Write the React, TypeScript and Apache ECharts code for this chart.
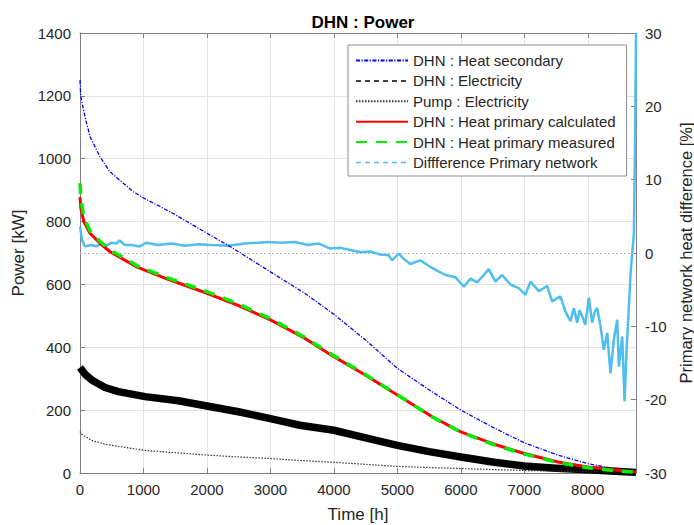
import React, { useEffect, useRef } from "react";
import * as echarts from "echarts";

// ---- Data ----
const timeSecondary = [0, 10, 79, 158, 315, 473, 841, 1009, 1420, 2000, 2370, 3000, 3540, 4000, 4500, 5000, 5550, 6000, 6490, 7000, 7530, 8000, 8400, 8760];
const heatSecondary = [1250, 1200, 1133, 1070, 1006, 958, 895, 874, 831, 763, 720, 640, 572, 505, 423, 333, 258, 200, 147, 96, 57, 30, 14, 3];

const timePrimary = [0, 15, 60, 158, 315, 473, 894, 1009, 1420, 2000, 2470, 3000, 3540, 3960, 4500, 5000, 5550, 6000, 6490, 7000, 7530, 8000, 8400, 8760];
const heatPrimaryCalc = [878, 840, 800, 763, 731, 704, 656, 646, 614, 572, 535, 487, 429, 375, 311, 248, 179, 131, 94, 62, 35, 19, 10, 3];
const heatPrimaryMeas = [922, 870, 815, 770, 737, 710, 660, 650, 618, 577, 540, 491, 432, 378, 313, 249, 178, 130, 92, 60, 33, 17, 8, 2];

const timeElec = [0, 90, 184, 394, 605, 1025, 1551, 2000, 2497, 3000, 3463, 4000, 4500, 5000, 5500, 6000, 6500, 7000, 7500, 8000, 8500, 8760];
const dhnElectricity = [336, 312, 296, 272, 259, 243, 230, 213, 195, 173, 152, 136, 112, 88, 68, 51, 35, 22, 15, 10, 5, 2];

const timePump = [0, 20, 179, 389, 599, 1020, 1546, 2003, 2492, 3007, 3463, 4000, 5000, 6000, 7000, 8000, 8760];
const pumpElectricity = [132, 124, 104, 92, 85, 72, 64, 57, 51, 46, 40, 34, 21, 14, 8, 4, 1];

const timeDiff = [
  0, 32, 73, 126, 179, 258, 336, 415, 494, 573,
  625, 704, 809, 941, 1046, 1230, 1440, 1651, 1861, 2071,
  2334, 2597, 2807, 2965, 3175, 3385, 3595, 3753, 3943, 4101,
  4259, 4416, 4574, 4732, 4863, 4916, 5021, 5100, 5205, 5363,
  5521, 5626, 5758, 5915, 6047, 6152, 6257, 6362, 6441, 6545,
  6650, 6781, 6913, 7018, 7097, 7228, 7360, 7438, 7570, 7649,
  7728, 7780, 7833, 7870, 7912, 7960, 8017, 8069, 8110, 8148,
  8201, 8253, 8306, 8358, 8411, 8464, 8490, 8543, 8580, 8612,
  8648, 8675, 8701, 8727, 8745, 8760,
];
const diffPrimary = [
  3.6, 1.8, 0.9, 1.0, 1.1, 0.9, 1.3, 1.0, 1.4, 1.3,
  1.7, 1.1, 1.1, 0.9, 1.4, 1.1, 1.3, 1.0, 1.2, 1.1,
  1.0, 1.3, 1.4, 1.5, 1.4, 1.5, 1.1, 1.3, 0.6, 0.7,
  0.4, 0.1, 0.2, -0.2, -0.3, -1.0, -0.1, -0.8, -1.5, -1.0,
  -1.9, -2.4, -3.0, -3.3, -4.6, -3.5, -4.0, -3.0, -2.2, -3.9,
  -3.0, -4.3, -4.8, -5.7, -3.9, -5.2, -4.5, -6.6, -5.9, -8.0,
  -9.3, -7.5, -9.5, -7.8, -8.6, -9.8, -6.1, -9.5, -8.0, -7.5,
  -10.0, -13.2, -10.9, -16.4, -11.8, -9.1, -15.5, -11.4, -20.2, -13.2,
  -7.3, -2.7, 0, 2.7, 15, 30,
];

const names = [
  "DHN : Heat secondary",
  "DHN : Electricity",
  "Pump : Electricity",
  "DHN : Heat primary calculated",
  "DHN : Heat primary measured",
  "Diffference Primary network",
];

const pairs = (t: number[], v: number[]) => t.map((x, i) => [x, v[i]]);

const FONT = '"Liberation Sans", Arial, Helvetica, sans-serif';
const TXT = "#262626";
const AXIS = "#808080";
const GRID = "#e3e3e3";
const plain = (v: number) => String(v);

export default function App() {
  const ref = useRef<HTMLDivElement>(null);
  useEffect(() => {
    document.body.style.margin = "0";
    const chart = echarts.init(ref.current!, undefined, { renderer: "svg" });
    const option: any = {
      animation: false,
      backgroundColor: "#ffffff",
      textStyle: { fontFamily: FONT },
      title: {
        text: "DHN : Power",
        left: 358,
        top: 9,
        textAlign: "center",
        textStyle: { fontFamily: FONT, fontSize: 17, fontWeight: "bold", color: "#000" },
      },
      grid: { left: 80, right: 58, top: 33, bottom: 52, show: false, containLabel: false, outerBoundsMode: "none" },
      legend: {
        orient: "vertical",
        left: 348,
        top: 45,
        padding: [8, 11, 6, 7],
        itemGap: 5.4,
        itemWidth: 52,
        itemHeight: 14,
        backgroundColor: "#ffffff",
        borderColor: "#8c8c8c",
        borderWidth: 1,
        itemStyle: { opacity: 0 },
        textStyle: { fontFamily: FONT, fontSize: 15, color: TXT },
        data: [
          { name: names[0] },
          { name: names[1], lineStyle: { width: 1.5, type: [5, 4] } },
          { name: names[2] },
          { name: names[3] },
          { name: names[4] },
          { name: names[5], lineStyle: { width: 1.5, type: [5, 4] } },
        ],
      },
      xAxis: [
        {
          type: "value",
          min: 0,
          max: 8760,
          interval: 1000,
          name: "Time [h]",
          nameLocation: "middle",
          nameGap: 33,
          nameTextStyle: { fontFamily: FONT, fontSize: 17, color: TXT },
          axisLine: { show: true, lineStyle: { color: AXIS } },
          axisTick: { show: true, inside: true, length: 5, lineStyle: { color: AXIS } },
          axisLabel: {
            fontFamily: FONT,
            fontSize: 15,
            color: TXT,
            margin: 9,
            showMaxLabel: false,
            formatter: plain,
          },
          splitLine: { show: true, lineStyle: { color: GRID, width: 1 } },
        },
        {
          type: "value",
          position: "top",
          min: 0,
          max: 8760,
          interval: 1000,
          axisLine: { show: true, onZero: false, lineStyle: { color: AXIS } },
          axisTick: { show: true, inside: true, length: 5, lineStyle: { color: AXIS } },
          axisLabel: { show: false },
          splitLine: { show: false },
        },
      ],
      yAxis: [
        {
          type: "value",
          min: 0,
          max: 1400,
          interval: 200,
          name: "Power [kW]",
          nameLocation: "middle",
          nameGap: 46,
          nameRotate: 90,
          nameTextStyle: { fontFamily: FONT, fontSize: 17, color: TXT },
          axisLine: { show: true, lineStyle: { color: AXIS } },
          axisTick: { show: true, inside: true, length: 5, lineStyle: { color: AXIS } },
          axisLabel: { fontFamily: FONT, fontSize: 15, color: TXT, margin: 9, formatter: plain },
          splitLine: { show: true, lineStyle: { color: GRID, width: 1 } },
        },
        {
          type: "value",
          min: -30,
          max: 30,
          interval: 10,
          position: "right",
          name: "Primary network heat difference [%]",
          nameLocation: "middle",
          nameGap: 36,
          nameRotate: 90,
          nameTextStyle: { fontFamily: FONT, fontSize: 16.5, color: TXT },
          axisLine: { show: true, onZero: false, lineStyle: { color: AXIS } },
          axisTick: { show: true, inside: true, length: 5, lineStyle: { color: AXIS } },
          axisLabel: { fontFamily: FONT, fontSize: 15, color: TXT, margin: 9, formatter: plain },
          splitLine: { show: false },
        },
      ],
      series: [
        {
          name: names[0],
          type: "line",
          symbol: "none",
          xAxisIndex: 0,
          yAxisIndex: 0,
          data: pairs(timeSecondary, heatSecondary),
          lineStyle: { color: "#0000ff", width: 1.3, type: [4, 1.5, 1.2, 1.5] },
          itemStyle: { color: "#0000ff" },
          z: 3,
        },
        {
          name: names[1],
          type: "line",
          symbol: "none",
          xAxisIndex: 0,
          yAxisIndex: 0,
          data: pairs(timeElec, dhnElectricity),
          lineStyle: { color: "#000000", width: 7.5, type: "solid", join: "round" },
          itemStyle: { color: "#000000" },
          z: 3,
        },
        {
          name: names[2],
          type: "line",
          symbol: "none",
          xAxisIndex: 0,
          yAxisIndex: 0,
          data: pairs(timePump, pumpElectricity),
          lineStyle: { color: "#333333", width: 1.2, type: [1.5, 1.5] },
          itemStyle: { color: "#333333" },
          z: 3,
        },
        {
          name: names[3],
          type: "line",
          symbol: "none",
          xAxisIndex: 0,
          yAxisIndex: 0,
          data: pairs(timePrimary, heatPrimaryCalc),
          lineStyle: { color: "#ff0000", width: 3 },
          itemStyle: { color: "#ff0000" },
          z: 4,
        },
        {
          name: names[4],
          type: "line",
          symbol: "none",
          xAxisIndex: 0,
          yAxisIndex: 0,
          data: pairs(timePrimary, heatPrimaryMeas),
          lineStyle: { color: "#00ee00", width: 3.5, type: [11, 9] },
          itemStyle: { color: "#00ee00" },
          z: 5,
        },
        {
          name: names[5],
          type: "line",
          symbol: "none",
          xAxisIndex: 0,
          yAxisIndex: 1,
          data: pairs(timeDiff, diffPrimary),
          lineStyle: { color: "#4dbeee", width: 2.5, type: "solid" },
          itemStyle: { color: "#4dbeee" },
          z: 2,
          markLine: {
            silent: true,
            symbol: ["none", "none"],
            label: { show: false },
            lineStyle: { color: "#b5b5b5", type: [2, 2], width: 1 },
            data: [{ yAxis: 0 }],
          },
        },
      ],
    };
    chart.setOption(option);
    return () => chart.dispose();
  }, []);
  return <div ref={ref} style={{ width: 694, height: 525, background: "#fff" }} />;
}
